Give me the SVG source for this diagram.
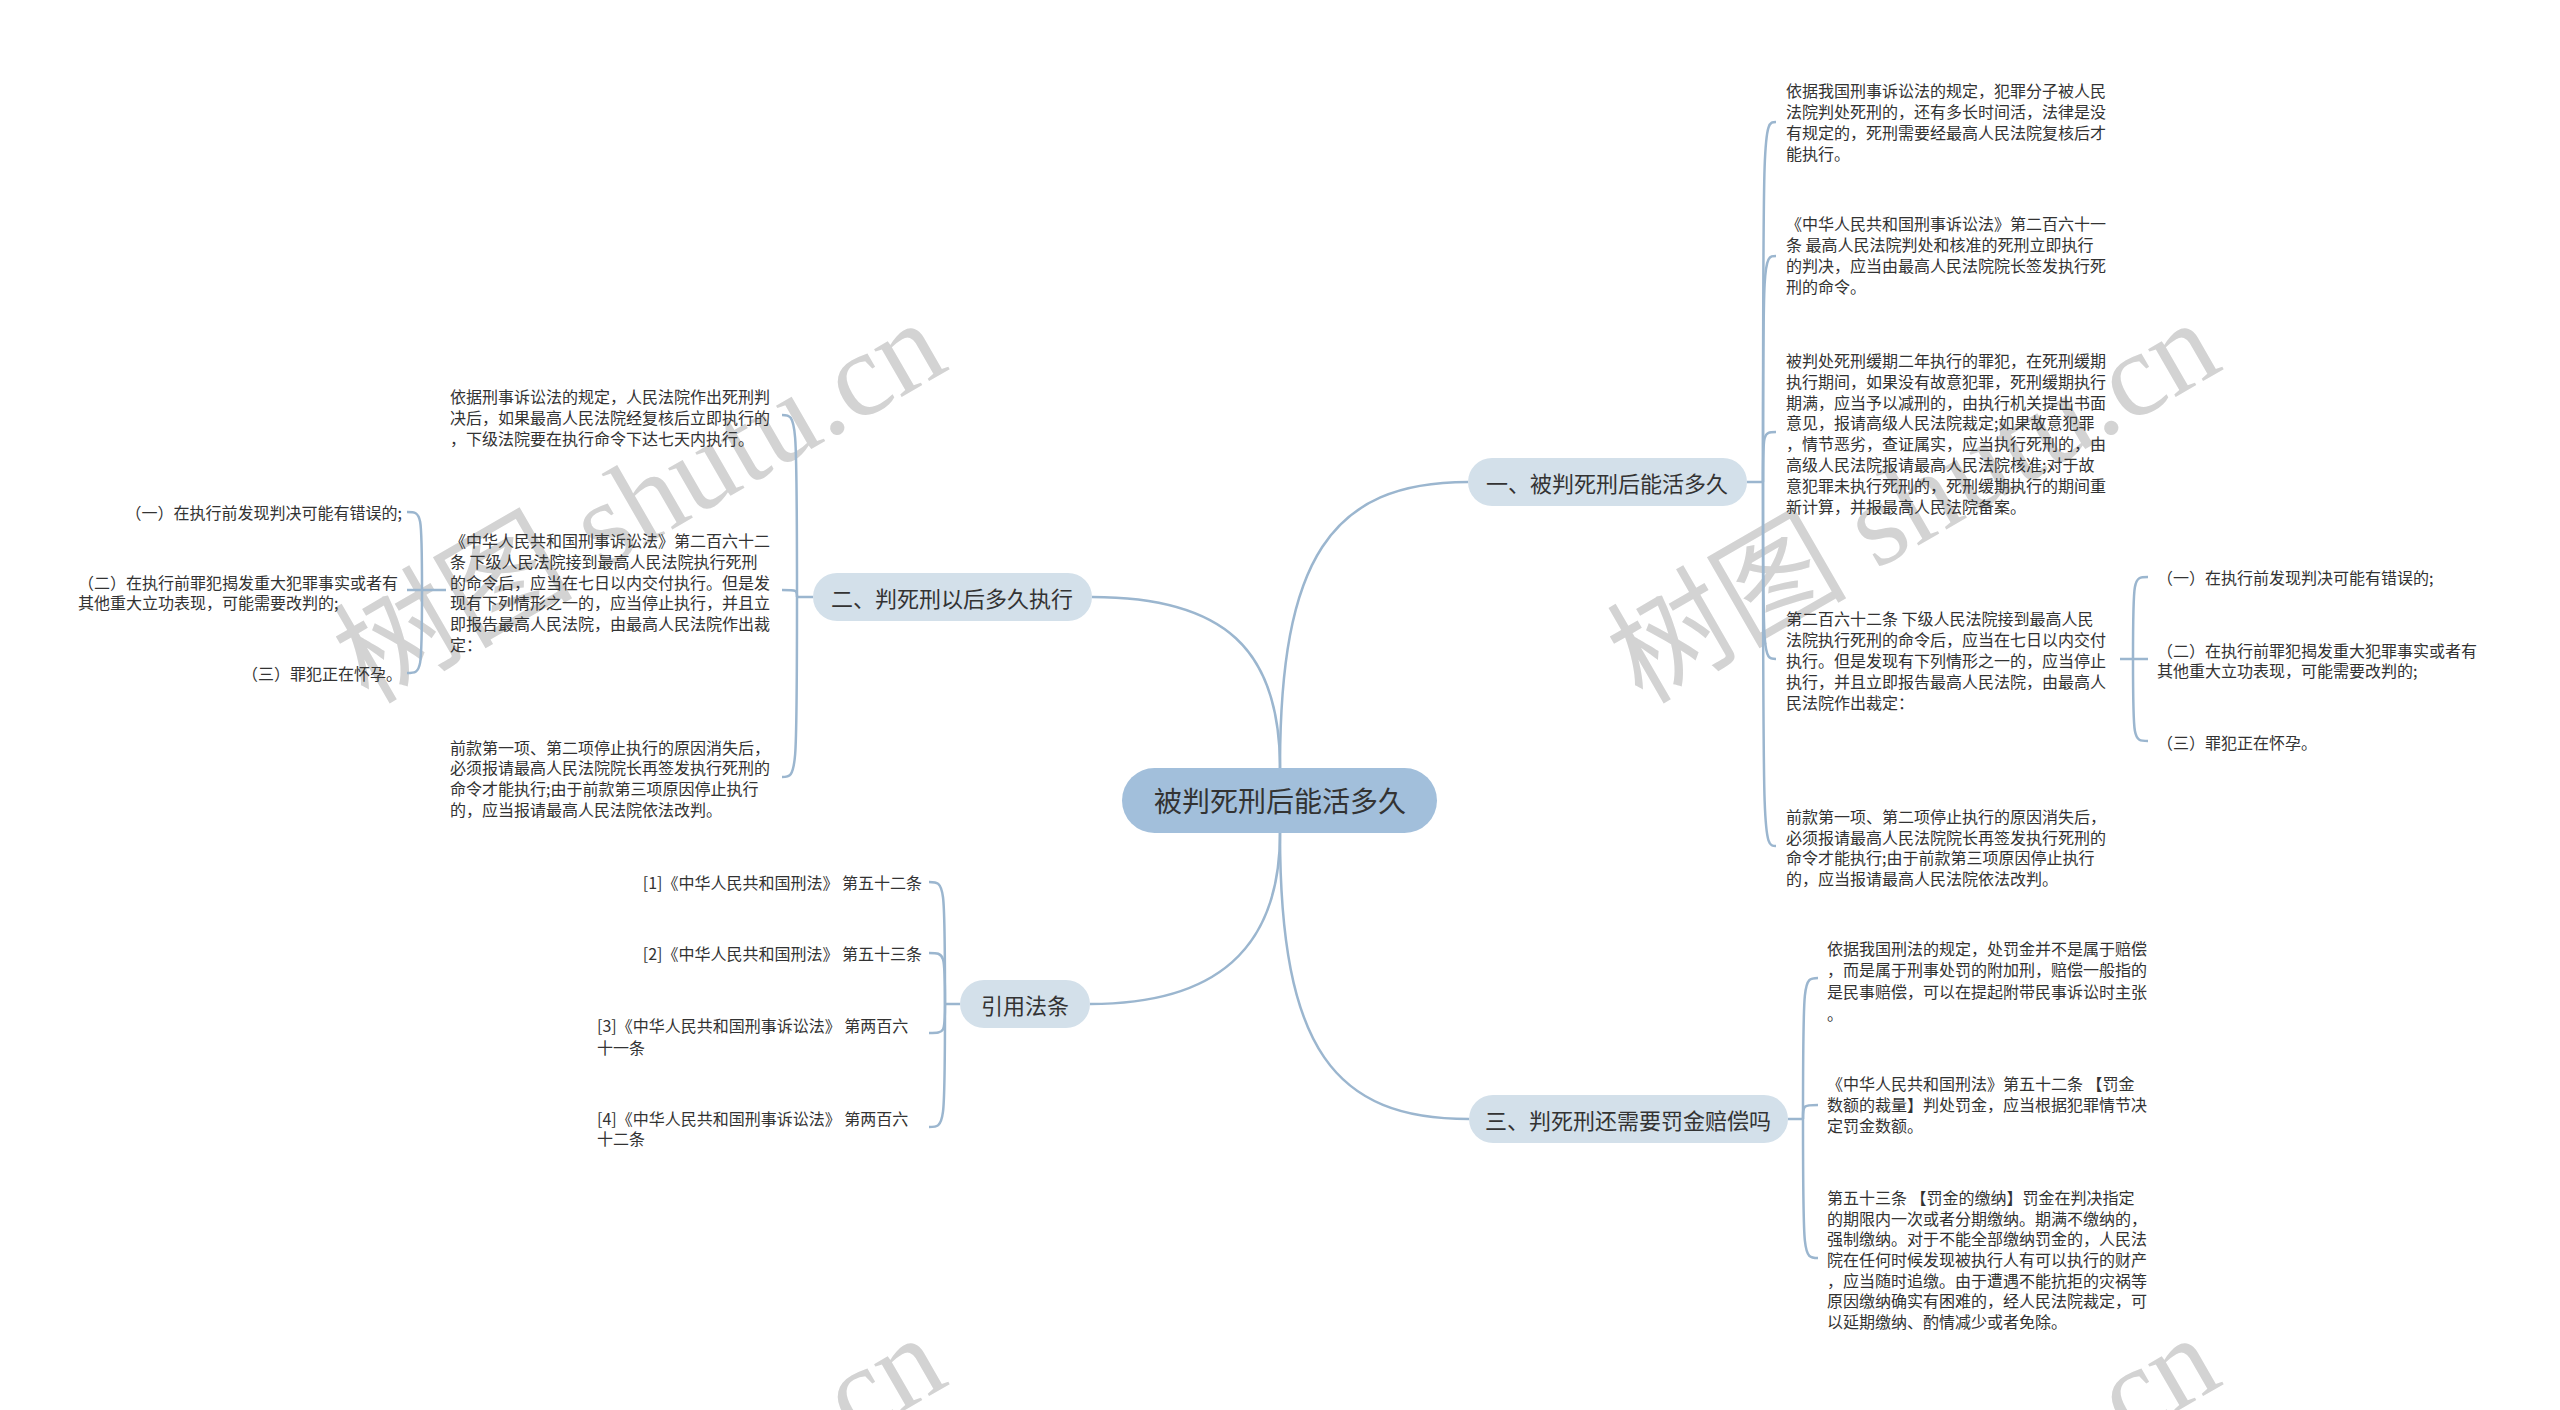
<svg xmlns="http://www.w3.org/2000/svg" width="2560" height="1410" viewBox="0 0 2560 1410">
<style>
.wm{font-family:"Liberation Serif","Noto Sans CJK SC",serif;font-size:120px;fill:#d3d3d3}
.t{font-family:"Noto Sans CJK SC","Noto Sans",sans-serif;font-size:16px;fill:#333;dominant-baseline:central}
.n{font-family:"Noto Sans CJK SC","Noto Sans",sans-serif;font-size:22px;fill:#333;dominant-baseline:central;text-anchor:middle}
.m{font-family:"Noto Sans CJK SC","Noto Sans",sans-serif;font-size:28px;fill:#333;dominant-baseline:central;text-anchor:middle}
.e{text-anchor:end}
.sub{fill:#d3e0ea}
.main{fill:#a2bfdb}
.c path{fill:none;stroke:#9bb6cf;stroke-width:2.5}
</style>
<rect width="2560" height="1410" fill="#fff"/>
<g id="watermarks">
<text class="wm" x="368" y="705" transform="rotate(-30 368 705)">树图 shutu.cn</text>
<text class="wm" x="1642" y="705" transform="rotate(-30 1642 705)">树图 shutu.cn</text>
<text class="wm" x="368" y="1720" transform="rotate(-30 368 1720)">树图 shutu.cn</text>
<text class="wm" x="1642" y="1720" transform="rotate(-30 1642 1720)">树图 shutu.cn</text>
</g>
<g id="connectors" class="c">
<path d="M1280 768 C1280 560 1330 482 1468 482"/>
<path d="M1280 768 C1280 650 1225 597 1092 597"/>
<path d="M1280 833 C1280 1050 1335 1119 1469 1119"/>
<path d="M1280 833 C1280 950 1215 1004 1090 1004"/>
<path d="M1747 482 H1763"/>
<path d="M1763 482 C1763 122 1763 122 1776 122"/>
<path d="M1763 482 C1763 256 1763 256 1776 256"/>
<path d="M1763 482 C1763 432 1763 432 1776 432"/>
<path d="M1763 482 C1763 659 1763 659 1776 659"/>
<path d="M1763 482 C1763 846 1763 846 1776 846"/>
<path d="M2120 659 H2133"/>
<path d="M2133 659 C2133 577 2133 577 2148 577"/>
<path d="M2133 659 H2148"/>
<path d="M2133 659 C2133 741 2133 741 2148 741"/>
<path d="M1788 1119 H1803"/>
<path d="M1803 1119 C1803 978 1803 978 1818 978"/>
<path d="M1803 1119 C1803 1105 1803 1105 1818 1105"/>
<path d="M1803 1119 C1803 1258 1803 1258 1818 1258"/>
<path d="M813 597 H797"/>
<path d="M797 597 C797 415 797 415 782 415"/>
<path d="M797 597 C797 590 797 590 782 590"/>
<path d="M797 597 C797 777 797 777 782 777"/>
<path d="M446 590 H422"/>
<path d="M422 590 C422 512 422 512 407 512"/>
<path d="M422 590 H407"/>
<path d="M422 590 C422 673 422 673 407 673"/>
<path d="M960 1004 H945"/>
<path d="M945 1004 C945 882 945 882 929 882"/>
<path d="M945 1004 C945 953 945 953 929 953"/>
<path d="M945 1004 C945 1033 945 1033 929 1033"/>
<path d="M945 1004 C945 1127 945 1127 929 1127"/>
</g>
<g id="root">
<rect class="main" x="1122" y="768" width="315" height="65" rx="32.5"/>
<text class="m" x="1280" y="800">被判死刑后能活多久</text>
</g>
<g id="n1">
<rect class="sub" x="1468" y="458" width="279" height="48" rx="24"/>
<text class="n" x="1607" y="482">一、被判死刑后能活多久</text>
</g>
<g id="n2">
<rect class="sub" x="813" y="573" width="279" height="48" rx="24"/>
<text class="n" x="952" y="597">二、判死刑以后多久执行</text>
</g>
<g id="n3">
<rect class="sub" x="1469" y="1095" width="319" height="48" rx="24"/>
<text class="n" x="1628" y="1119">三、判死刑还需要罚金赔偿吗</text>
</g>
<g id="n4">
<rect class="sub" x="960" y="980" width="130" height="48" rx="24"/>
<text class="n" x="1025" y="1004">引用法条</text>
</g>
<g id="n1-1">
<text class="t"><tspan x="1786" y="90">依据我国刑事诉讼法的规定，犯罪分子被人民</tspan><tspan x="1786" y="111">法院判处死刑的，还有多长时间活，法律是没</tspan><tspan x="1786" y="132">有规定的，死刑需要经最高人民法院复核后才</tspan><tspan x="1786" y="153">能执行。</tspan></text>
</g>
<g id="n1-2">
<text class="t"><tspan x="1786" y="223">《中华人民共和国刑事诉讼法》第二百六十一</tspan><tspan x="1786" y="244">条 最高人民法院判处和核准的死刑立即执行</tspan><tspan x="1786" y="265">的判决，应当由最高人民法院院长签发执行死</tspan><tspan x="1786" y="286">刑的命令。</tspan></text>
</g>
<g id="n1-3">
<text class="t"><tspan x="1786" y="360">被判处死刑缓期二年执行的罪犯，在死刑缓期</tspan><tspan x="1786" y="381">执行期间，如果没有故意犯罪，死刑缓期执行</tspan><tspan x="1786" y="401.6">期满，应当予以减刑的，由执行机关提出书面</tspan><tspan x="1786" y="422.4">意见，报请高级人民法院裁定;如果故意犯罪</tspan><tspan x="1786" y="443.2">，情节恶劣，查证属实，应当执行死刑的，由</tspan><tspan x="1786" y="464">高级人民法院报请最高人民法院核准;对于故</tspan><tspan x="1786" y="484.8">意犯罪未执行死刑的，死刑缓期执行的期间重</tspan><tspan x="1786" y="505.6">新计算，并报最高人民法院备案。</tspan></text>
</g>
<g id="n1-4">
<text class="t"><tspan x="1786" y="618">第二百六十二条 下级人民法院接到最高人民</tspan><tspan x="1786" y="639">法院执行死刑的命令后，应当在七日以内交付</tspan><tspan x="1786" y="660">执行。但是发现有下列情形之一的，应当停止</tspan><tspan x="1786" y="681">执行，并且立即报告最高人民法院，由最高人</tspan><tspan x="1786" y="702">民法院作出裁定：</tspan></text>
</g>
<g id="n1-5">
<text class="t"><tspan x="1786" y="816">前款第一项、第二项停止执行的原因消失后，</tspan><tspan x="1786" y="836.5">必须报请最高人民法院院长再签发执行死刑的</tspan><tspan x="1786" y="857">命令才能执行;由于前款第三项原因停止执行</tspan><tspan x="1786" y="877.5">的，应当报请最高人民法院依法改判。</tspan></text>
</g>
<g id="n1-4-1"><text class="t" x="2157" y="577">（一）在执行前发现判决可能有错误的;</text></g>
<g id="n1-4-2"><text class="t"><tspan x="2157" y="650">（二）在执行前罪犯揭发重大犯罪事实或者有</tspan><tspan x="2157" y="670">其他重大立功表现，可能需要改判的;</tspan></text></g>
<g id="n1-4-3"><text class="t" x="2157" y="742">（三）罪犯正在怀孕。</text></g>
<g id="n3-1">
<text class="t"><tspan x="1827" y="948">依据我国刑法的规定，处罚金并不是属于赔偿</tspan><tspan x="1827" y="969">，而是属于刑事处罚的附加刑，赔偿一般指的</tspan><tspan x="1827" y="991">是民事赔偿，可以在提起附带民事诉讼时主张</tspan><tspan x="1827" y="1013">。</tspan></text>
</g>
<g id="n3-2">
<text class="t"><tspan x="1827" y="1083">《中华人民共和国刑法》第五十二条 【罚金</tspan><tspan x="1827" y="1104">数额的裁量】判处罚金，应当根据犯罪情节决</tspan><tspan x="1827" y="1125">定罚金数额。</tspan></text>
</g>
<g id="n3-3">
<text class="t"><tspan x="1827" y="1197">第五十三条 【罚金的缴纳】罚金在判决指定</tspan><tspan x="1827" y="1218">的期限内一次或者分期缴纳。期满不缴纳的，</tspan><tspan x="1827" y="1238">强制缴纳。对于不能全部缴纳罚金的，人民法</tspan><tspan x="1827" y="1259">院在任何时候发现被执行人有可以执行的财产</tspan><tspan x="1827" y="1280">，应当随时追缴。由于遭遇不能抗拒的灾祸等</tspan><tspan x="1827" y="1300">原因缴纳确实有困难的，经人民法院裁定，可</tspan><tspan x="1827" y="1321">以延期缴纳、酌情减少或者免除。</tspan></text>
</g>
<g id="n2-1">
<text class="t"><tspan x="450" y="396">依据刑事诉讼法的规定，人民法院作出死刑判</tspan><tspan x="450" y="417">决后，如果最高人民法院经复核后立即执行的</tspan><tspan x="450" y="438">，下级法院要在执行命令下达七天内执行。</tspan></text>
</g>
<g id="n2-2">
<text class="t"><tspan x="450" y="540">《中华人民共和国刑事诉讼法》第二百六十二</tspan><tspan x="450" y="561">条 下级人民法院接到最高人民法院执行死刑</tspan><tspan x="450" y="582">的命令后，应当在七日以内交付执行。但是发</tspan><tspan x="450" y="602">现有下列情形之一的，应当停止执行，并且立</tspan><tspan x="450" y="623">即报告最高人民法院，由最高人民法院作出裁</tspan><tspan x="450" y="644">定：</tspan></text>
</g>
<g id="n2-3">
<text class="t"><tspan x="450" y="747">前款第一项、第二项停止执行的原因消失后，</tspan><tspan x="450" y="767">必须报请最高人民法院院长再签发执行死刑的</tspan><tspan x="450" y="788">命令才能执行;由于前款第三项原因停止执行</tspan><tspan x="450" y="809">的，应当报请最高人民法院依法改判。</tspan></text>
</g>
<g id="n2-2-1"><text class="t e" x="402" y="512">（一）在执行前发现判决可能有错误的;</text></g>
<g id="n2-2-2"><text class="t"><tspan x="78" y="582">（二）在执行前罪犯揭发重大犯罪事实或者有</tspan><tspan x="78" y="602">其他重大立功表现，可能需要改判的;</tspan></text></g>
<g id="n2-2-3"><text class="t e" x="402" y="673">（三）罪犯正在怀孕。</text></g>
<g id="n4-1"><text class="t e" x="922" y="882">[1]《中华人民共和国刑法》 第五十二条</text></g>
<g id="n4-2"><text class="t e" x="922" y="953">[2]《中华人民共和国刑法》 第五十三条</text></g>
<g id="n4-3"><text class="t"><tspan x="597" y="1025">[3]《中华人民共和国刑事诉讼法》 第两百六</tspan><tspan x="597" y="1047">十一条</tspan></text></g>
<g id="n4-4"><text class="t"><tspan x="597" y="1118">[4]《中华人民共和国刑事诉讼法》 第两百六</tspan><tspan x="597" y="1138">十二条</tspan></text></g>
</svg>
